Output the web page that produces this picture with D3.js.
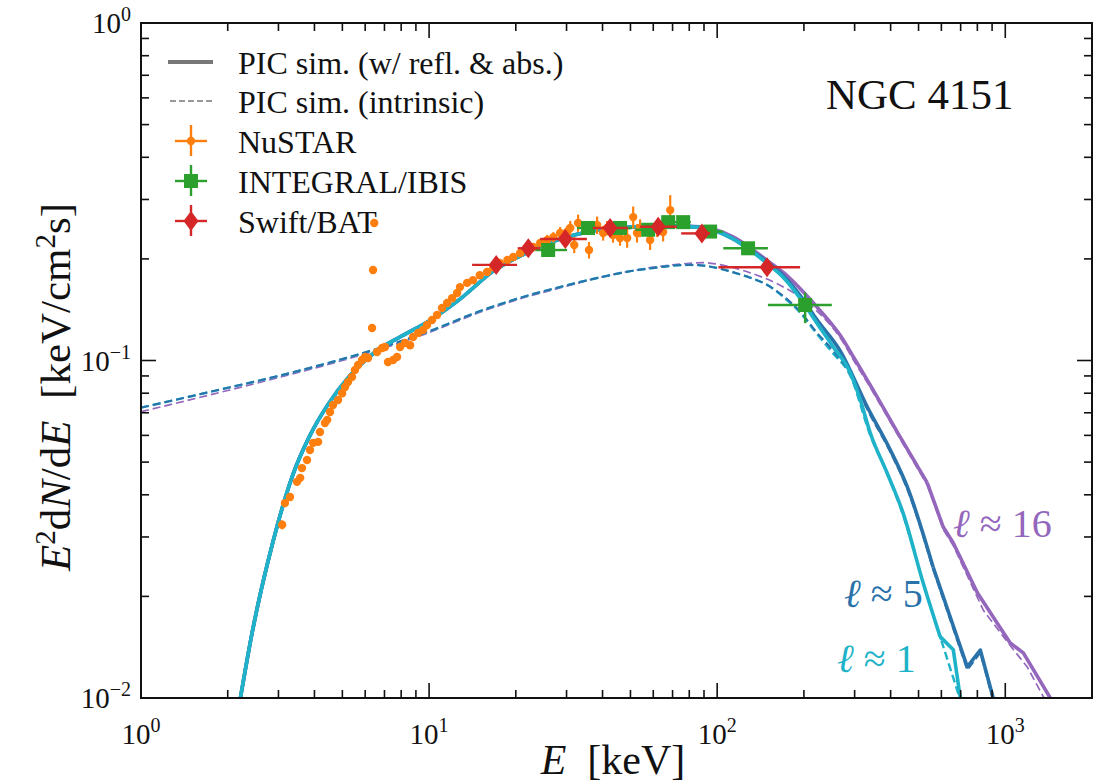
<!DOCTYPE html>
<html><head><meta charset="utf-8">
<script src="https://cdn.jsdelivr.net/npm/d3@7"></script>
<style>
html,body{margin:0;padding:0;background:#fff;}
svg{display:block;}
</style></head>
<body>
<svg id="chart" width="1095" height="784" font-family="'Liberation Serif', 'DejaVu Serif', 'Times New Roman', Times, serif"></svg>
<script>
// ---------- data ----------
// PIC simulation, with reflection & absorption (solid)
const solidL1E = [2.2,2.43,2.87,3.37,3.86,4.43,5.3,6.5,8.0,10,12.8,16.7,21.9,28.5,37,49,65,87,114,130,149,170,194,222,253,290,314,340,389,442,519,594,660,698,715];
const solidL1Y = [0.0097,0.0156,0.029,0.046,0.060,0.0735,0.090,0.106,0.118,0.131,0.152,0.184,0.209,0.229,0.242,0.248,0.251,0.248,0.229,0.2125,0.194,0.176,0.153,0.129,0.1096,0.0918,0.0764,0.061,0.0464,0.0353,0.0219,0.0152,0.0139,0.0100,0.0088];
const solidL5E = [2.2,2.43,2.87,3.37,3.86,4.43,5.3,6.5,8.0,10,12.8,16.7,21.9,28.5,37,49,65,87,114,130,149,170,194,222,267,332,399,457,562,738,819,908,930];
const solidL5Y = [0.0097,0.0156,0.029,0.046,0.060,0.0735,0.090,0.106,0.118,0.131,0.152,0.184,0.209,0.229,0.242,0.248,0.251,0.248,0.229,0.213,0.196,0.178,0.156,0.132,0.107,0.0728,0.0543,0.0422,0.0244,0.01236,0.01387,0.0100,0.0092];
const solidL16E = [2.2,2.43,2.87,3.37,3.86,4.43,5.3,6.5,8.0,10,12.8,16.7,21.9,28.5,37,49,65,87,114,130,149,170,222,250,267,300,332,432,536,609,660,800,1040,1155,1433,1500];
const solidL16Y = [0.0097,0.0156,0.029,0.046,0.060,0.0735,0.090,0.106,0.118,0.131,0.152,0.184,0.209,0.229,0.242,0.248,0.251,0.249,0.232,0.216,0.198,0.182,0.144,0.128,0.119,0.101,0.0875,0.0593,0.0434,0.0321,0.0288,0.0205,0.01456,0.0136,0.0100,0.0092];
// PIC simulation, intrinsic (dashed)
const dashL1E = [1,2,3,5,7,10,15,20,30,40,50,60,70,80,90,100,115,130,150,170,195,220,250,290,340,390,440,520,600,700,715];
const dashL1Y = [0.0725,0.083,0.090,0.101,0.110,0.122,0.140,0.152,0.167,0.177,0.184,0.188,0.191,0.192,0.191,0.188,0.182,0.176,0.167,0.154,0.138,0.121,0.106,0.090,0.060,0.046,0.0352,0.0218,0.0148,0.0098,0.0088];
const dashL5E = [1,2,3,5,7,10,15,20,30,40,50,60,70,80,90,100,115,130,150,170,195,220,250,290,332,399,457,562,738,819,908,930];
const dashL5Y = [0.0725,0.083,0.090,0.101,0.110,0.122,0.140,0.152,0.167,0.177,0.184,0.188,0.191,0.192,0.191,0.188,0.182,0.176,0.167,0.155,0.139,0.122,0.108,0.091,0.0715,0.0535,0.0415,0.024,0.0121,0.0136,0.0098,0.0090];
const dashL16E = [1,2,3,5,7,10,15,20,30,40,50,60,70,80,90,100,115,130,161,194,222,250,267,300,332,432,536,609,660,839,1040,1192,1355,1420];
const dashL16Y = [0.0705,0.0815,0.089,0.100,0.109,0.121,0.139,0.151,0.166,0.177,0.184,0.189,0.192,0.194,0.195,0.193,0.188,0.182,0.169,0.154,0.140,0.126,0.117,0.099,0.086,0.0585,0.0428,0.0316,0.0283,0.0182,0.0143,0.01236,0.0101,0.0093];

// NuSTAR
const nustarE = [3.09,3.16,3.29,3.48,3.57,3.62,3.77,3.86,3.96,4.12,4.18,4.35,4.43,4.53,4.64,4.83,4.99,5.11,5.23,5.40,5.53,5.67,5.85,6.00,6.14,6.34,6.39,6.45,6.60,6.87,7.03,7.20,7.50,7.74,7.93,8.25,8.59,8.80,9.16,9.53,9.84,10.24,10.66,11.09,11.55,12.02,12.51,12.8,13.55,14.2,15.0,15.9,16.7,17.6,18.7,19.6,20.7,21.9,23.0,24.3,25.7,27.0,28.5,30.1,30.9,31.9,32.9,35.9,38.3,40.2,41.5,43.5,46.0,48.7,51.1,52.7,54.0,58.5,61.9,64.9,68.7];
const nustarY = [0.0326,0.0378,0.0394,0.0437,0.0449,0.048,0.0507,0.0543,0.057,0.0574,0.0614,0.0653,0.0667,0.0704,0.0738,0.0764,0.080,0.0835,0.0863,0.0893,0.0937,0.097,0.1003,0.1024,0.1017,0.1248,0.1855,0.2555,0.106,0.1089,0.1096,0.099,0.1003,0.1024,0.1096,0.1127,0.111,0.1174,0.1207,0.1231,0.1274,0.1318,0.1364,0.143,0.148,0.153,0.1585,0.165,0.1698,0.173,0.179,0.183,0.189,0.1945,0.1985,0.2026,0.208,0.2125,0.217,0.223,0.2275,0.232,0.2386,0.2403,0.247,0.22,0.2555,0.2125,0.252,0.2386,0.247,0.2354,0.2307,0.2307,0.266,0.2386,0.247,0.2275,0.247,0.2403,0.279];
const nustarErr = [0.001,0.001,0.001,0.001,0.001,0.001,0.001,0.001,0.001,0.001,0.001,0.001,0.001,0.001,0.001,0.001,0.001,0.001,0.001,0.001,0.001,0.001,0.001,0.001,0.001,0.002,0.003,0.004,0.001,0.001,0.001,0.001,0.001,0.001,0.001,0.001,0.001,0.001,0.001,0.001,0.003,0.003,0.003,0.003,0.003,0.003,0.003,0.003,0.003,0.003,0.003,0.003,0.003,0.003,0.003,0.003,0.003,0.003,0.003,0.003,0.008,0.008,0.01,0.01,0.012,0.012,0.015,0.012,0.015,0.012,0.012,0.012,0.012,0.015,0.02,0.015,0.015,0.015,0.015,0.015,0.03];
// INTEGRAL/IBIS
const ibisE = [25.9,35.6,46.0,57.6,67.6,76.2,94.5,128,202];
const ibisY = [0.2125,0.247,0.247,0.244,0.257,0.257,0.241,0.215,0.146];
const ibisElo = [23.4,32.6,42.5,52,63,72,87,105,150];
const ibisEhi = [30.1,38.3,50.6,63,72,81,105,150,250];
const ibisYlo = [0.2105,0.245,0.245,0.242,0.255,0.255,0.239,0.212,0.129];
const ibisYhi = [0.2145,0.249,0.249,0.246,0.259,0.259,0.243,0.218,0.159];
// Swift/BAT
const batE = [17.1,22.1,29.7,42.5,62.4,88.5,149];
const batY = [0.192,0.215,0.229,0.247,0.249,0.238,0.189];
const batElo = [14.1,20.3,24.3,37,53.9,75,101];
const batEhi = [20.2,24.3,35.3,49,72.4,94.5,194];

const xTickMajor = [1,10,100,1000];
const xTickExp = ["0","1","2","3"];
const yTickMajor = [0.01,0.1,1];
const yTickExp = ["\u22122","\u22121","0"];
const legendLabels = ["PIC sim. (w/ refl. & abs.)","PIC sim. (intrinsic)","NuSTAR","INTEGRAL/IBIS","Swift/BAT"];
const curveLabels = ["16","5","1"];

// ---------- drawing ----------
const C = {cyan:"#1fb3c9", blue:"#2a72aa", purple:"#9467bd", orange:"#ff7f0e", green:"#2ca02c", red:"#d62728"};
const L = 141, R = 1092, T = 23, B = 698;
const svg = d3.select("#chart");
const x = d3.scaleLog().domain([1,2000]).range([L,R]);
const y = d3.scaleLog().domain([0.01,1]).range([B,T]);

svg.append("defs").append("clipPath").attr("id","clip")
  .append("rect").attr("x",L).attr("y",T).attr("width",R-L).attr("height",B-T);
const plot = svg.append("g").attr("clip-path","url(#clip)");

const smooth = d3.line().x(d=>x(d[0])).y(d=>y(d[1])).curve(d3.curveMonotoneX);
const straight = d3.line().x(d=>x(d[0])).y(d=>y(d[1]));
const zip = (a,b)=>a.map((v,i)=>[v,b[i]]);
// smooth up to ~600 keV, piecewise-linear (noisy simulation tail) above
function drawCurve(e, v, attrs){
  const pts = zip(e,v);
  const cut = 600;
  const a = pts.filter(p=>p[0]<=cut), b = pts.filter(p=>p[0]>=a[a.length-1][0]);
  [smooth(a), straight(b)].forEach(d=>{
    const p = plot.append("path").attr("d",d).attr("fill","none")
      .attr("stroke-linejoin","round");
    Object.entries(attrs).forEach(([k,val])=>p.attr(k,val));
  });
}

[[dashL16E,dashL16Y,C.purple,1.7],[dashL1E,dashL1Y,C.cyan,2.4],[dashL5E,dashL5Y,C.blue,2.0]].forEach(([e,v,c,w])=>{
  drawCurve(e,v,{stroke:c,"stroke-width":w,"stroke-dasharray":"8,4"});
});
[[solidL16E,solidL16Y,C.purple],[solidL5E,solidL5Y,C.blue],[solidL1E,solidL1Y,C.cyan]].forEach(([e,v,c])=>{
  drawCurve(e,v,{stroke:c,"stroke-width":3.6});
});

// NuSTAR
const nu = nustarE.map((e,i)=>({e, v:nustarY[i], err:nustarErr[i]}));
plot.selectAll(".nuerr").data(nu).enter().append("line")
  .attr("x1",d=>x(d.e)).attr("x2",d=>x(d.e))
  .attr("y1",d=>y(d.v-d.err)).attr("y2",d=>y(d.v+d.err))
  .attr("stroke",C.orange).attr("stroke-width",2.2);
plot.selectAll(".nudot").data(nu).enter().append("circle")
  .attr("cx",d=>x(d.e)).attr("cy",d=>y(d.v)).attr("r",4.2).attr("fill",C.orange);

// INTEGRAL
const ib = ibisE.map((e,i)=>({e,v:ibisY[i],lo:ibisElo[i],hi:ibisEhi[i],ylo:ibisYlo[i],yhi:ibisYhi[i]}));
plot.selectAll(".ibx").data(ib).enter().append("line")
  .attr("x1",d=>x(d.lo)).attr("x2",d=>x(d.hi)).attr("y1",d=>y(d.v)).attr("y2",d=>y(d.v))
  .attr("stroke",C.green).attr("stroke-width",2.4);
plot.selectAll(".iby").data(ib).enter().append("line")
  .attr("x1",d=>x(d.e)).attr("x2",d=>x(d.e)).attr("y1",d=>y(d.ylo)).attr("y2",d=>y(d.yhi))
  .attr("stroke",C.green).attr("stroke-width",2.4);
plot.selectAll(".ibm").data(ib).enter().append("rect")
  .attr("x",d=>x(d.e)-7).attr("y",d=>y(d.v)-7).attr("width",14).attr("height",14).attr("fill",C.green);

// Swift/BAT
const bt = batE.map((e,i)=>({e,v:batY[i],lo:batElo[i],hi:batEhi[i]}));
plot.selectAll(".btx").data(bt).enter().append("line")
  .attr("x1",d=>x(d.lo)).attr("x2",d=>x(d.hi)).attr("y1",d=>y(d.v)).attr("y2",d=>y(d.v))
  .attr("stroke",C.red).attr("stroke-width",2.4);
const diamond = (cx,cy)=>`M${cx},${cy-10}L${cx+7.5},${cy}L${cx},${cy+10}L${cx-7.5},${cy}Z`;
plot.selectAll(".btm").data(bt).enter().append("path")
  .attr("d",d=>diamond(x(d.e),y(d.v))).attr("fill",C.red);

// ---------- axes ----------
const minorX = [], minorY = [];
[1,10,100,1000].forEach(b=>{for(let k=2;k<=9;k++){const v=b*k; if(v<2000) minorX.push(v);}});
[0.01,0.1].forEach(b=>{for(let k=2;k<=9;k++) minorY.push(+(b*k).toPrecision(3));});
const ax = svg.append("g").attr("stroke","#111").attr("stroke-width",1.6);
const tick = (x1,y1,x2,y2)=>ax.append("line").attr("x1",x1).attr("y1",y1).attr("x2",x2).attr("y2",y2);
xTickMajor.forEach(v=>{ if(v>1){ tick(x(v),B,x(v),B-15); tick(x(v),T,x(v),T+15);} });
minorX.forEach(v=>{ tick(x(v),B,x(v),B-8); tick(x(v),T,x(v),T+8); });
yTickMajor.forEach(v=>{ if(v>0.01 && v<1){ tick(L,y(v),L+15,y(v)); tick(R,y(v),R-15,y(v)); } });
minorY.forEach(v=>{ tick(L,y(v),L+8,y(v)); tick(R,y(v),R-8,y(v)); });
svg.append("rect").attr("x",L).attr("y",T).attr("width",R-L).attr("height",B-T)
  .attr("fill","none").attr("stroke","#111").attr("stroke-width",2);

const TXT = "#111";
// tick labels
xTickMajor.forEach((v,i)=>{
  const t = svg.append("text").attr("x",x(v)).attr("y",744).attr("text-anchor","middle").attr("font-size",29).attr("fill",TXT);
  t.append("tspan").text("10");
  t.append("tspan").attr("dy",-12).attr("font-size",20).text(xTickExp[i]);
});
yTickMajor.forEach((v,i)=>{
  const t = svg.append("text").attr("x",131).attr("y",y(v)+10).attr("text-anchor","end").attr("font-size",29).attr("fill",TXT);
  t.append("tspan").text("10");
  t.append("tspan").attr("dy",-12).attr("font-size",20).text(yTickExp[i]);
});

// axis labels
const xl = svg.append("text").attr("x",613).attr("y",774).attr("text-anchor","middle").attr("font-size",42).attr("fill",TXT);
xl.append("tspan").attr("font-style","italic").text("E");
xl.append("tspan").text("\u2002[keV]");
const yl = svg.append("text").attr("transform","translate(70,387) rotate(-90)").attr("text-anchor","middle").attr("font-size",43).attr("fill",TXT);
yl.append("tspan").attr("font-style","italic").text("E");
yl.append("tspan").attr("dy",-15).attr("font-size",29).text("2");
yl.append("tspan").attr("dy",15).text("d");
yl.append("tspan").attr("font-style","italic").text("N");
yl.append("tspan").text("/d");
yl.append("tspan").attr("font-style","italic").text("E");
yl.append("tspan").text("\u2002[keV/cm");
yl.append("tspan").attr("dy",-15).attr("font-size",29).text("2");
yl.append("tspan").attr("dy",15).text("s]");

// title
svg.append("text").attr("x",826).attr("y",109).attr("font-size",43).attr("fill",TXT).text("NGC 4151");

// curve labels
[[953,537,C.purple],[844,607,C.blue],[837,672,C.cyan]].forEach(([px,py,c],i)=>{
  const t = svg.append("text").attr("x",px).attr("y",py).attr("font-size",40).attr("fill",c);
  t.append("tspan").attr("font-style","italic").text("\u2113");
  t.append("tspan").text(" \u2248 " + curveLabels[i]);
});

// ---------- legend ----------
const lg = svg.append("g");
const rowY = [62,101,141,181,221];
lg.append("line").attr("x1",168).attr("x2",213).attr("y1",rowY[0]).attr("y2",rowY[0]).attr("stroke","#777").attr("stroke-width",4);
lg.append("line").attr("x1",170).attr("x2",212).attr("y1",rowY[1]).attr("y2",rowY[1]).attr("stroke","#777").attr("stroke-width",1.6).attr("stroke-dasharray","6,3");
[[C.orange,"c"],[C.green,"s"],[C.red,"d"]].forEach(([c,m],i)=>{
  const cy = rowY[i+2], cx = 191;
  lg.append("line").attr("x1",cx-16).attr("x2",cx+16).attr("y1",cy).attr("y2",cy).attr("stroke",c).attr("stroke-width",2.4);
  lg.append("line").attr("x1",cx).attr("x2",cx).attr("y1",cy-16).attr("y2",cy+15).attr("stroke",c).attr("stroke-width",2.4);
  if(m==="c") lg.append("circle").attr("cx",cx).attr("cy",cy).attr("r",4.2).attr("fill",c);
  if(m==="s") lg.append("rect").attr("x",cx-7).attr("y",cy-7).attr("width",14).attr("height",14).attr("fill",c);
  if(m==="d") lg.append("path").attr("d",diamond(cx,cy)).attr("fill",c);
});
legendLabels.forEach((s,i)=>{
  lg.append("text").attr("x",238).attr("y",rowY[i]+12).attr("font-size",32).attr("fill",TXT).text(s);
});
</script>
</body></html>
